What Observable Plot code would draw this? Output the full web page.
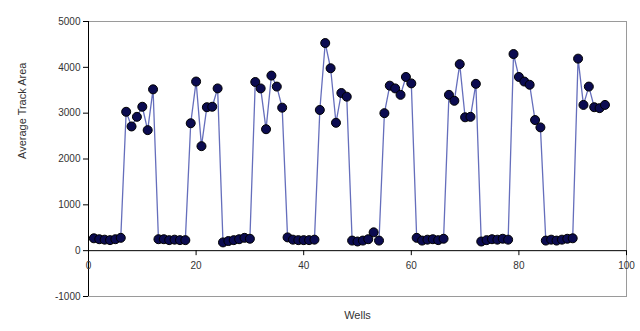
<!DOCTYPE html>
<html>
<head>
<meta charset="utf-8">
<script src="https://cdn.jsdelivr.net/npm/d3@7"></script>
<script src="https://cdn.jsdelivr.net/npm/@observablehq/plot@0.6"></script>
<style>
  html, body { margin: 0; padding: 0; background: #fff; }
  svg { font-family: "Liberation Sans", Arial, sans-serif; }
</style>
</head>
<body>
<div id="chart"></div>
<script>
// Average track area per well (wells 1..96)
const trackArea = [
  270, 250, 240, 230, 250, 280,
  3030, 2710, 2920, 3140, 2630, 3520,
  250, 250, 230, 240, 230, 230,
  2780, 3690, 2280, 3130, 3140, 3540,
  180, 210, 230, 250, 280, 260,
  3680, 3540, 2650, 3820, 3580, 3120,
  290, 240, 230, 230, 230, 240,
  3070, 4530, 3980, 2790, 3440, 3360,
  220, 200, 220, 250, 400, 220,
  3000, 3600, 3540, 3400, 3790, 3650,
  280, 220, 240, 250, 230, 260,
  3400, 3270, 4070, 2910, 2920, 3640,
  200, 230, 250, 240, 260, 240,
  4290, 3790, 3690, 3620, 2850, 2690,
  220, 240, 220, 240, 260, 270,
  4190, 3180, 3580, 3130, 3110, 3180
];
const wells = trackArea.map((_, i) => i + 1);
const xTicks = [0, 20, 40, 60, 80, 100];
const yTicks = [-1000, 0, 1000, 2000, 3000, 4000, 5000];
const xTitle = "Wells";
const yTitle = "Average Track Area";

const data = wells.map((w, i) => ({well: w, value: trackArea[i]}));

const chart = Plot.plot({
  width: 640,
  height: 331,
  marginLeft: 88,
  marginRight: 14,
  marginTop: 21,
  marginBottom: 35,
  style: {fontFamily: "'Liberation Sans', Arial, sans-serif", fontSize: "10px", color: "#333", background: "#fff"},
  x: {domain: [0, 100], axis: null},
  y: {domain: [-1000, 5000], axis: null},
  marks: [
    Plot.frame({stroke: "#9a9a9a", strokeWidth: 1}),
    Plot.axisY(yTicks, {tickSize: 5, tickPadding: 3, label: null, tickFormat: d => String(d), stroke: "#000", fill: "#333"}),
    Plot.ruleX([0], {stroke: "#000", strokeWidth: 1}),
    Plot.ruleY([0], {stroke: "#000", strokeWidth: 1}),
    Plot.ruleX(xTicks, {x: d => d, y1: 0, y2: 0, insetBottom: -5, stroke: "#000"}),
    Plot.text(xTicks, {x: d => d, y: 0, text: d => String(d), dy: 15, fill: "#333", fontSize: 10}),
    Plot.text([xTitle], {frameAnchor: "bottom", dy: 22, fontSize: 11, fill: "#333"}),
    Plot.text([yTitle], {frameAnchor: "left", dx: -66, rotate: -90, fontSize: 11, fill: "#333"}),
    Plot.line(data, {x: "well", y: "value", stroke: "#4a55b0", strokeWidth: 1.3, strokeOpacity: 0.85}),
    Plot.dot(data, {x: "well", y: "value", r: 4.5, fill: "#0b0b50", stroke: "#000", strokeWidth: 1})
  ]
});
document.getElementById("chart").appendChild(chart);
</script>
</body>
</html>
